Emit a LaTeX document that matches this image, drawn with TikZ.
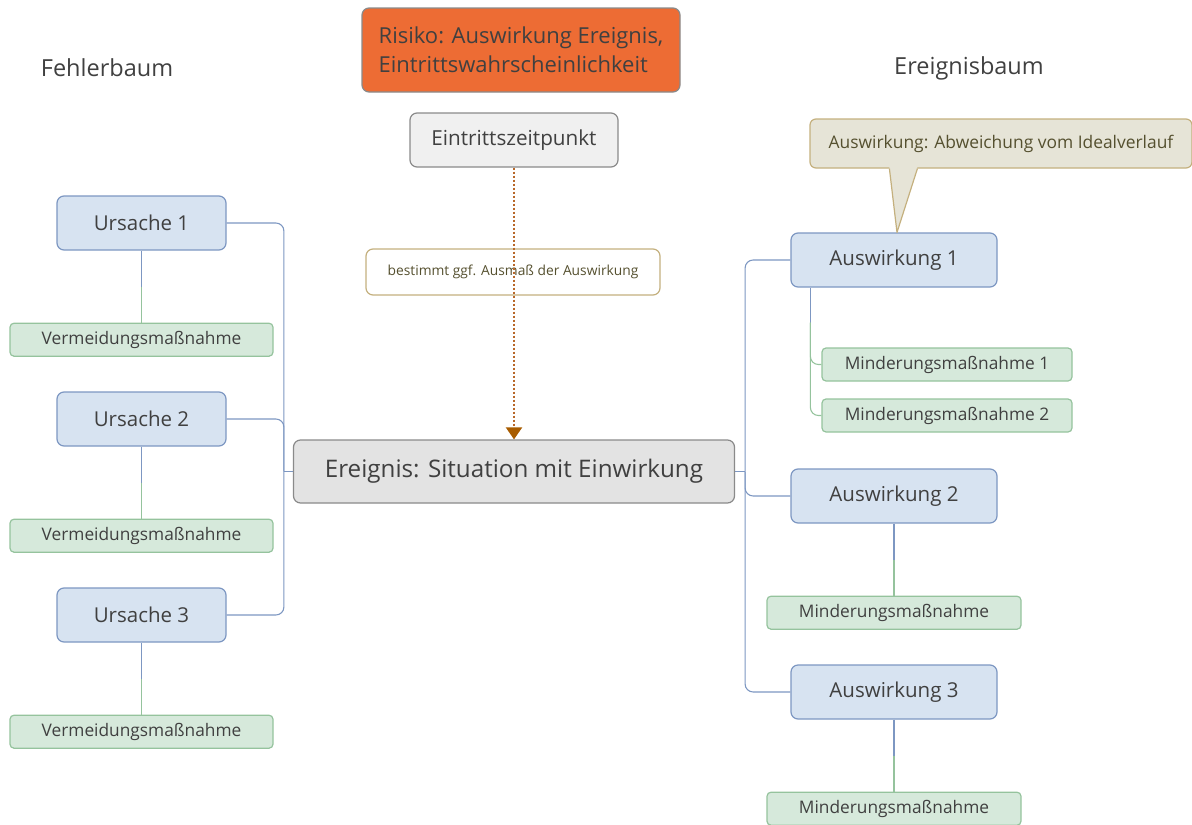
\documentclass[tikz,border=0pt]{standalone}
\usepackage{fontspec}
\setmainfont{Open Sans}
\usetikzlibrary{positioning,calc,arrows.meta}
\definecolor{txtgray}{HTML}{404040}
\definecolor{riskfill}{HTML}{ED6C34}
\definecolor{boxline}{HTML}{8A8A8A}
\definecolor{bluefill}{HTML}{D7E3F1}
\definecolor{blueline}{HTML}{7D97C2}
\definecolor{greenfill}{HTML}{D6E9DB}
\definecolor{greenline}{HTML}{95C39D}
\definecolor{notefill}{HTML}{E6E4D7}
\definecolor{noteline}{HTML}{C4B07E}
\definecolor{notetext}{HTML}{55502F}
\definecolor{dotbrown}{HTML}{B8682A}
\definecolor{tipbrown}{HTML}{A85C00}
\tikzset{
	fs/.style={font=\fontsize{#1}{#1}\selectfont},
	box/.style={draw, rounded corners=7pt, line width=1.2pt, inner sep=0pt, text=txtgray},
	ursache/.style={box, fill=bluefill, draw=blueline, minimum width=169pt, minimum height=54pt, fs=20.5},
	massnahme/.style={box, fill=greenfill, draw=greenline, rounded corners=4pt, minimum width=#1, minimum height=33pt, fs=17.3},
	blueconn/.style={draw=blueline, line width=1.1pt, rounded corners=8pt},
	greenconn/.style={draw=greenline, line width=1.1pt, rounded corners=8pt}
}
\begin{document}
\begin{tikzpicture}[x=1pt,y=-1pt]
  \useasboundingbox (0,0) rectangle (1192,825);
  \node [fs=23.5, text=txtgray] (fb) at (107,68) {Fehlerbaum};
  \node [fs=23.5, text=txtgray] (eb) at (969,68) {Ereignisbaum};
  \node [box, fill=riskfill, draw=boxline, minimum width=318pt, minimum height=84pt, align=left, font=\fontsize{22}{29}\selectfont] (risk) at (521,50) {Risiko: Auswirkung Ereignis,\\Eintrittswahrscheinlichkeit};
  \node [box, fill=black!6, draw=boxline, minimum width=208pt, minimum height=54pt, fs=20.7] (time) at (514,140) {Eintrittszeitpunkt};
  \node [box, fill=black!11, draw=boxline, minimum width=441pt, minimum height=63pt, fs=24.2] (event) at (514,471.5) {Ereignis: Situation mit Einwirkung};
  \node [box, fill=white, draw=noteline, text=notetext, minimum width=294pt, minimum height=46pt, fs=13.8] (det) at (513,272) {bestimmt ggf. Ausmaß der Auswirkung};
  \draw [dotbrown, dotted, line width=2pt, -{Triangle[width=16pt,length=12pt,fill=tipbrown,color=tipbrown]}] (time.south) -- (event.north);
  \node [ursache] (u1) at (141.5,223) {Ursache 1};
  \node [ursache] (u2) at (141.5,419) {Ursache 2};
  \node [ursache] (u3) at (141.5,615) {Ursache 3};
  \node [massnahme=263pt, below=72pt of u1] (v1) {Vermeidungsmaßnahme};
  \node [massnahme=263pt, below=72pt of u2] (v2) {Vermeidungsmaßnahme};
  \node [massnahme=263pt, below=72pt of u3] (v3) {Vermeidungsmaßnahme};
  \coordinate (lbus) at ($(event.west)+(-9,0)$);
  \coordinate (rbus) at ($(event.east)+(10,0)$);
  \foreach \u in {u1,u2,u3} \draw [blueconn] (\u.east) -| (lbus);
  \draw [blueconn] (lbus) -- (event.west);
  \foreach \u/\v in {u1/v1,u2/v2,u3/v3} {
    \draw [blueconn] (\u.south) -- ($(\u.south)!.5!(\v.north)$) coordinate (\u m);
    \draw [greenconn] (\u m) -- (\v.north);
  }
  \node [ursache, minimum width=206pt] (a1) at (894,260) {Auswirkung 1};
  \node [ursache, minimum width=206pt] (a2) at (894,496) {Auswirkung 2};
  \node [ursache, minimum width=206pt] (a3) at (894,692) {Auswirkung 3};
  \node [massnahme=250pt] (m1) at (947,364.5) {Minderungsmaßnahme 1};
  \node [massnahme=250pt] (m2) at (947,415.5) {Minderungsmaßnahme 2};
  \node [massnahme=254pt, below=72pt of a2] (m3) {Minderungsmaßnahme};
  \node [massnahme=254pt, below=72pt of a3] (m4) {Minderungsmaßnahme};
  \draw [blueconn] (event.east) -- (rbus);
  \foreach \a in {a1,a2,a3} \draw [blueconn] (rbus) |- (\a.west);
  \coordinate (a1s) at ($(a1.south west)+(20,0)$);
  \draw [blueconn] (a1s) -- ++(0,35) coordinate (a1m);
  \draw [greenconn] (a1m) |- (m1.west);
  \draw [greenconn] (a1m) |- (m2.west);
  \foreach \a/\m in {a2/m3,a3/m4} {
    \draw [blueconn] (\a.south) -- ($(\a.south)!.5!(\m.north)$) coordinate (\a m);
    \draw [greenconn] (\a m) -- (\m.north);
  }
  \node [box, fill=notefill, draw=noteline, text=notetext, rounded corners=6pt, minimum width=382pt, minimum height=49pt, fs=17.4] (note) at (1001,143.5) {Auswirkung: Abweichung vom Idealverlauf};
  \fill [notefill] ($(note.south west)+(80,-1.5)$) -- ($(a1.north)+(3,0)$) -- ($(note.south west)+(108,-1.5)$) -- cycle;
  \draw [noteline, line width=1.2pt, line join=round] ($(note.south west)+(80,0)$) -- ($(a1.north)+(3,0)$) -- ($(note.south west)+(108,0)$);
\end{tikzpicture}
\end{document}
